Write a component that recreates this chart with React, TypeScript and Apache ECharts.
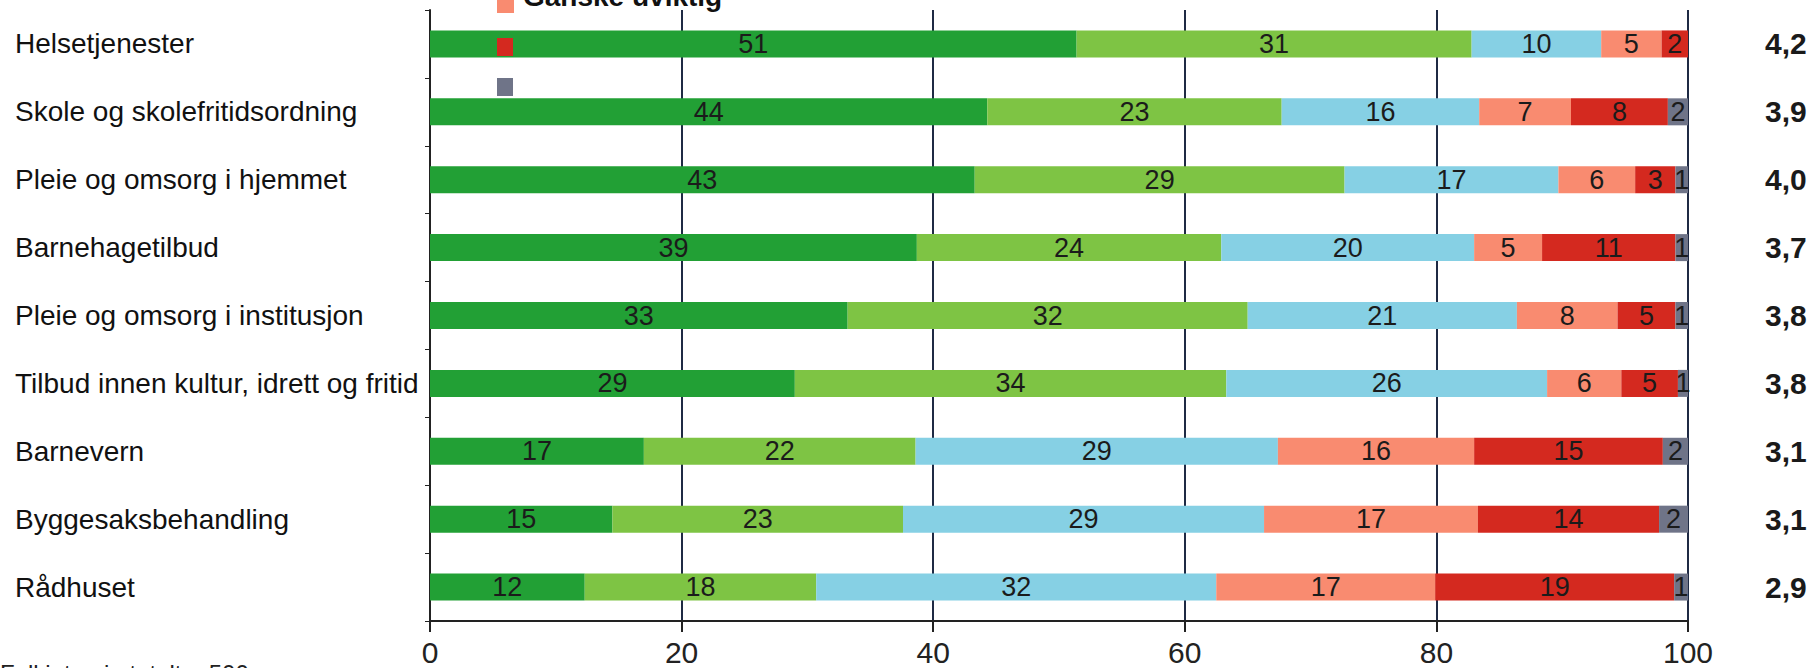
import React, { useEffect, useRef } from "react";
import * as echarts from "echarts";

const categories = [
  "Helsetjenester",
  "Skole og skolefritidsordning",
  "Pleie og omsorg i hjemmet",
  "Barnehagetilbud",
  "Pleie og omsorg i institusjon",
  "Tilbud innen kultur, idrett og fritid",
  "Barnevern",
  "Byggesaksbehandling",
  "Rådhuset",
];
const averages = ["4,2", "3,9", "4,0", "3,7", "3,8", "3,8", "3,1", "3,1", "2,9"];

const seriesNames = ["Svært viktig", "Ganske viktig", "Verken eller", "Ganske uviktig", "Svært uviktig", "Vet ikke"];
const sværtViktig = [51.4, 44.3, 43.3, 38.7, 33.2, 29.0, 17.0, 14.5, 12.3];
const ganskeViktig = [31.4, 23.4, 29.4, 24.2, 31.8, 34.3, 21.6, 23.1, 18.4];
const verkenEller = [10.3, 15.7, 17.0, 20.1, 21.4, 25.5, 28.8, 28.7, 31.8];
const ganskeUviktig = [4.8, 7.3, 6.1, 5.4, 8.0, 5.9, 15.6, 17.0, 17.4];
const sværtUviktig = [2.1, 7.7, 3.2, 10.6, 4.6, 4.5, 15.0, 14.4, 19.0];
const vetIkke = [0, 1.6, 1.0, 1.0, 1.0, 0.8, 2.0, 2.3, 1.1];
const xTicks = [0, 20, 40, 60, 80, 100];
const footnote = "Full intervju totalt = 500";

const colors = ["#22a035", "#7ec444", "#86d0e4", "#f98b70", "#d4291f", "#6f7488"];

export default function App() {
  const ref = useRef<HTMLDivElement>(null);
  useEffect(() => {
    if (!ref.current) return;
    const chart = echarts.init(ref.current, null, { renderer: "svg" });
    const values = [sværtViktig, ganskeViktig, verkenEller, ganskeUviktig, sværtUviktig, vetIkke];
    const font = "'Liberation Sans', Arial, sans-serif";
    chart.setOption({
      animation: false,
      backgroundColor: "#ffffff",
      textStyle: { fontFamily: font },
      grid: { left: 430, right: 132, top: 10, bottom: 47, containLabel: false },
      xAxis: {
        type: "value",
        min: xTicks[0],
        max: xTicks[xTicks.length - 1],
        interval: 20,
        axisLine: { show: true, lineStyle: { color: "#222222", width: 2 } },
        axisTick: { show: true, length: 11, lineStyle: { color: "#222222", width: 2 } },
        axisLabel: { fontSize: 30, lineHeight: 30, color: "#222222", margin: 16, fontFamily: font },
        splitLine: { show: true, lineStyle: { color: "#1f2a44", width: 2 } },
      },
      yAxis: [
        {
          type: "category",
          data: categories,
          inverse: true,
          axisLine: { show: true, lineStyle: { color: "#222222", width: 2 } },
          axisTick: { show: true, length: 5, lineStyle: { color: "#222222" } },
          axisLabel: { align: "left", margin: 415, fontSize: 28, color: "#111111", fontFamily: font },
        },
        {
          type: "category",
          data: averages,
          inverse: true,
          position: "right",
          axisLine: { show: false },
          axisTick: { show: false },
          axisLabel: { align: "left", margin: 77, fontSize: 30, fontWeight: "bold", color: "#1a1a1a", fontFamily: font },
        },
      ],
      series: values.map((data, i) => ({
        name: seriesNames[i],
        type: "bar",
        stack: "total",
        data,
        barWidth: 27,
        itemStyle: { color: colors[i] },
        label: {
          show: true,
          position: "inside",
          fontSize: 27,
          color: "#1b1b1b",
          fontFamily: font,
          formatter: (p: any) => (p.value >= 0.5 ? String(Math.round(p.value)) : ""),
        },
      })),
      graphic: [
        { type: "rect", z: 100, shape: { x: 497, y: -4, width: 17, height: 17 }, style: { fill: colors[3] } },
        {
          type: "text",
          z: 100,
          x: 523,
          y: -4,
          style: { text: seriesNames[3], font: `bold 28px ${font}`, fill: "#111111", verticalAlign: "middle" },
        },
        { type: "rect", z: 100, shape: { x: 497, y: 38, width: 16, height: 18 }, style: { fill: colors[4] } },
        { type: "rect", z: 100, shape: { x: 497, y: 78, width: 16, height: 18 }, style: { fill: colors[5] } },
        {
          type: "text",
          z: 100,
          x: 0,
          y: 661,
          style: { text: footnote, font: `24px ${font}`, fill: "#222222", verticalAlign: "top" },
        },
      ],
    });
    return () => chart.dispose();
  }, []);
  return <div ref={ref} style={{ position: "absolute", left: 0, top: 0, width: 1820, height: 668 }} />;
}
